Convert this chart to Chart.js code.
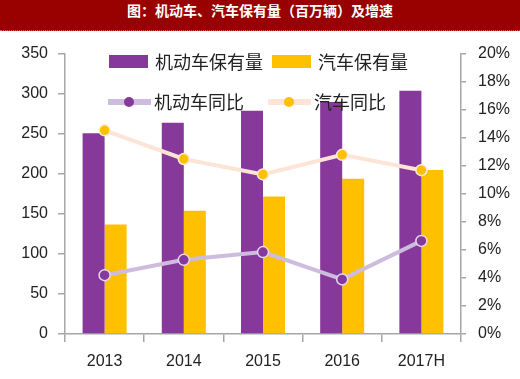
<!DOCTYPE html>
<html>
<head>
<meta charset="utf-8">
<script src="https://cdn.jsdelivr.net/npm/chart.js@4.4.1/dist/chart.umd.min.js"></script>
<style>
    body { margin: 0; background: #fff; }
    #wrap { position: relative; width: 520px; height: 379px; overflow: hidden; }
    #title {
        height: 30px; line-height: 30px; background: #990000; color: #fff;
        text-align: center; font: bold 14px "Noto Sans CJK SC", sans-serif;
        border-bottom: 1px dotted #8a7fa8;
    }
    #box { position: absolute; left: 0; top: 31px; width: 520px; height: 348px; }
    .lg { position: absolute; }
    .txt { position: absolute; font: 18px "Noto Sans CJK SC", sans-serif; color: #222; line-height: 24px; white-space: nowrap; }
    .dot { position: absolute; width: 10px; height: 10px; border-radius: 50%; }
</style>
</head>
<body>
<div id="wrap">
    <div id="title">图：机动车、汽车保有量（百万辆）及增速</div>
    <div id="box"><canvas id="chart" width="520" height="348"></canvas></div>
    <div id="legend"></div>
</div>
<script>
// 数据
const years = ['2013', '2014', '2015', '2016', '2017H'];
const motorStock = [251, 264, 279, 290, 304];   // 机动车保有量 (百万辆)
const carStock = [137, 154, 172, 194, 205];     // 汽车保有量
const motorYoY = [4.2, 5.3, 5.85, 3.9, 6.65];   // 机动车同比 %
const carYoY = [14.55, 12.5, 11.4, 12.8, 11.7]; // 汽车同比 %
const seriesNames = ['机动车保有量', '汽车保有量', '机动车同比', '汽车同比'];

const purple = '#86399A';
const yellow = '#FFC000';
const lavender = '#CDBCDD';
const peach = '#FCE4D6';
const axisColor = '#a6a6a6';
const tickFont = { family: '"Liberation Sans", Arial, sans-serif', size: 16 };

// 图例 (HTML 叠加)
const legend = document.getElementById('legend');
const items = [
    { x: 109, y: 62, kind: 'box', color: purple },
    { x: 272, y: 62, kind: 'box', color: yellow },
    { x: 108, y: 102, kind: 'line', color: lavender, dot: purple },
    { x: 268, y: 102, kind: 'line', color: peach, dot: yellow }
];
items.forEach((it, i) => {
    if (it.kind === 'box') {
        legend.insertAdjacentHTML('beforeend',
            `<div class="lg" style="left:${it.x}px;top:${it.y - 7}px;width:39px;height:13px;background:${it.color}"></div>`);
    } else {
        legend.insertAdjacentHTML('beforeend',
            `<div class="lg" style="left:${it.x}px;top:${it.y - 3}px;width:43px;height:6px;background:${it.color}"></div>` +
            `<div class="dot" style="left:${it.x + 16}px;top:${it.y - 5}px;background:${it.dot}"></div>`);
    }
    legend.insertAdjacentHTML('beforeend',
        `<div class="txt" style="left:${it.x + 46}px;top:${it.y - 13}px">${seriesNames[i]}</div>`);
});

new Chart(document.getElementById('chart').getContext('2d'), {
    data: {
        labels: years,
        datasets: [
            {
                type: 'line', label: seriesNames[2], data: motorYoY, yAxisID: 'y1', order: 0,
                borderColor: lavender, borderWidth: 4,
                pointRadius: 5.5, pointBackgroundColor: purple, pointBorderColor: '#e3d8ee', pointBorderWidth: 1.5
            },
            {
                type: 'line', label: seriesNames[3], data: carYoY, yAxisID: 'y1', order: 0,
                borderColor: peach, borderWidth: 4,
                pointRadius: 5.5, pointBackgroundColor: yellow, pointBorderColor: '#fdebd9', pointBorderWidth: 1.5
            },
            {
                type: 'bar', label: seriesNames[0], data: motorStock, yAxisID: 'y', order: 1,
                backgroundColor: purple, categoryPercentage: 0.556, barPercentage: 1
            },
            {
                type: 'bar', label: seriesNames[1], data: carStock, yAxisID: 'y', order: 1,
                backgroundColor: yellow, categoryPercentage: 0.556, barPercentage: 1
            }
        ]
    },
    options: {
        responsive: false,
        animation: false,
        layout: { padding: { top: 23, left: 0, right: 0, bottom: 0 } },
        plugins: { legend: { display: false }, tooltip: { enabled: false } },
        scales: {
            x: {
                afterFit: s => { s.height = 45; },
                grid: { drawOnChartArea: false, color: axisColor, lineWidth: 1.5, tickLength: 8 },
                border: { color: axisColor, width: 1.5 },
                ticks: { color: '#222', font: tickFont, padding: 10 }
            },
            y: {
                position: 'left', min: 0, max: 350,
                afterFit: s => { s.width = 65; },
                grid: { drawOnChartArea: false, color: axisColor, lineWidth: 1.5, tickLength: 7 },
                border: { color: axisColor, width: 1.5 },
                ticks: { stepSize: 50, color: '#222', font: tickFont, padding: 10 }
            },
            y1: {
                position: 'right', min: 0, max: 20,
                afterFit: s => { s.width = 59; },
                grid: { drawOnChartArea: false, color: axisColor, lineWidth: 1.5, tickLength: 5 },
                border: { color: axisColor, width: 1.5 },
                ticks: { stepSize: 2, color: '#222', font: tickFont, padding: 12, callback: v => v + '%' }
            }
        }
    }
});
</script>
</body>
</html>
